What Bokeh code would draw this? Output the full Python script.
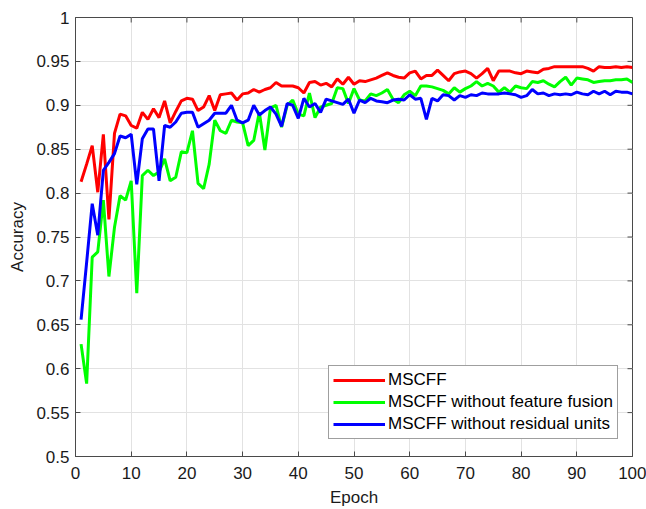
import math
from bokeh.plotting import figure
from bokeh.models import (FixedTicker, Legend, LegendItem,
                          CustomJSTickFormatter, Range1d)
from bokeh.embed import file_html
from bokeh.resources import INLINE

epochs = list(range(1, 101))

mscff = [0.813, 0.833, 0.854, 0.801, 0.867, 0.770, 0.868, 0.890, 0.888, 0.877,
         0.874, 0.892, 0.884, 0.896, 0.886, 0.905, 0.880, 0.893, 0.905, 0.908,
         0.907, 0.894, 0.898, 0.911, 0.894, 0.912, 0.913, 0.914, 0.906, 0.913,
         0.914, 0.918, 0.915, 0.918, 0.920, 0.926, 0.922, 0.922, 0.922, 0.920,
         0.914, 0.926, 0.927, 0.923, 0.925, 0.921, 0.930, 0.924, 0.932, 0.924,
         0.928, 0.927, 0.929, 0.931, 0.934, 0.937, 0.934, 0.932, 0.931, 0.937,
         0.939, 0.930, 0.934, 0.934, 0.940, 0.934, 0.928, 0.936, 0.938, 0.939,
         0.936, 0.931, 0.936, 0.942, 0.928, 0.939, 0.939, 0.939, 0.937, 0.936,
         0.939, 0.938, 0.937, 0.941, 0.942, 0.944, 0.944, 0.944, 0.944, 0.944,
         0.944, 0.942, 0.939, 0.944, 0.943, 0.943, 0.944, 0.943, 0.944, 0.943]

no_fusion = [0.628, 0.583, 0.727, 0.733, 0.792, 0.705, 0.761, 0.797, 0.792, 0.814,
             0.686, 0.820, 0.826, 0.820, 0.824, 0.839, 0.814, 0.818, 0.847, 0.846,
             0.871, 0.811, 0.805, 0.833, 0.883, 0.871, 0.868, 0.883, 0.881, 0.880,
             0.854, 0.860, 0.892, 0.849, 0.897, 0.900, 0.875, 0.900, 0.906, 0.890,
             0.888, 0.914, 0.886, 0.898, 0.900, 0.902, 0.920, 0.919, 0.902, 0.919,
             0.906, 0.905, 0.913, 0.911, 0.914, 0.918, 0.907, 0.903, 0.912, 0.916,
             0.911, 0.922, 0.922, 0.921, 0.919, 0.917, 0.913, 0.920, 0.915, 0.919,
             0.922, 0.927, 0.922, 0.925, 0.922, 0.915, 0.920, 0.915, 0.922, 0.920,
             0.919, 0.927, 0.926, 0.928, 0.924, 0.921, 0.927, 0.932, 0.923, 0.931,
             0.930, 0.929, 0.926, 0.927, 0.928, 0.928, 0.929, 0.929, 0.930, 0.926]

no_residual = [0.656, 0.721, 0.788, 0.752, 0.826, 0.835, 0.845, 0.865, 0.863, 0.867,
               0.810, 0.862, 0.873, 0.873, 0.814, 0.877, 0.875, 0.881, 0.891, 0.892,
               0.892, 0.875, 0.879, 0.883, 0.891, 0.891, 0.891, 0.900, 0.883, 0.880,
               0.883, 0.900, 0.889, 0.894, 0.898, 0.890, 0.876, 0.902, 0.900, 0.885,
               0.908, 0.898, 0.902, 0.892, 0.907, 0.905, 0.903, 0.901, 0.907, 0.891,
               0.906, 0.903, 0.908, 0.905, 0.904, 0.903, 0.906, 0.907, 0.906, 0.912,
               0.907, 0.908, 0.884, 0.908, 0.905, 0.912, 0.911, 0.906, 0.911, 0.909,
               0.912, 0.911, 0.914, 0.913, 0.913, 0.913, 0.914, 0.913, 0.912, 0.909,
               0.911, 0.918, 0.913, 0.914, 0.911, 0.913, 0.912, 0.913, 0.912, 0.915,
               0.913, 0.912, 0.916, 0.913, 0.916, 0.912, 0.916, 0.915, 0.915, 0.913]

series_names = ["MSCFF", "MSCFF without feature fusion", "MSCFF without residual units"]
series_colors = ["#ff0000", "#00ff00", "#0000ff"]

x_ticks = [0, 10, 20, 30, 40, 50, 60, 70, 80, 90, 100]
y_ticks = [0.5, 0.55, 0.6, 0.65, 0.7, 0.75, 0.8, 0.85, 0.9, 0.95, 1.0]

FONT = "Liberation Sans"
AX = "#4a4a4a"
TXT = "#1a1a1a"

p = figure(frame_width=557, frame_height=439,
           x_range=Range1d(x_ticks[0], x_ticks[-1]), y_range=Range1d(y_ticks[0], y_ticks[-1]),
           output_backend="svg", toolbar_location=None,
           min_border_left=75, min_border_top=17, min_border_right=14, min_border_bottom=53,
           background_fill_color="white", border_fill_color="white")
p.outline_line_color = AX
p.outline_line_width = 1

fmt = CustomJSTickFormatter(code="return tick.toFixed(2).replace(/0+$/,'').replace(/\\.$/,'');")

for ax in (p.xaxis[0], p.yaxis[0]):
    ax.major_tick_in = 5
    ax.major_tick_out = 0
    ax.minor_tick_line_color = None
    ax.axis_line_color = AX
    ax.major_tick_line_color = AX
    ax.major_label_text_font = FONT
    ax.major_label_text_font_size = "17px"
    ax.major_label_text_color = TXT
    ax.axis_label_text_font = FONT
    ax.axis_label_text_font_size = "17px"
    ax.axis_label_text_font_style = "normal"
    ax.axis_label_text_color = TXT

p.xaxis[0].ticker = FixedTicker(ticks=x_ticks)
p.yaxis[0].ticker = FixedTicker(ticks=y_ticks)
p.yaxis[0].formatter = fmt
p.xaxis[0].axis_label = "Epoch"
p.yaxis[0].axis_label = "Accuracy"
p.xaxis[0].major_label_standoff = 10
p.xaxis[0].axis_label_standoff = 6
p.yaxis[0].major_label_standoff = 6
p.yaxis[0].axis_label_standoff = 6

# inward tick marks on the top and right edges of the box
p.ray(x=x_ticks, y=[y_ticks[-1]] * len(x_ticks), length=5, length_units="screen",
      angle=-math.pi / 2, line_color=AX, line_width=1)
p.ray(x=[x_ticks[-1]] * len(y_ticks), y=y_ticks, length=5, length_units="screen",
      angle=math.pi, line_color=AX, line_width=1)

p.xgrid.ticker = FixedTicker(ticks=x_ticks)
p.ygrid.ticker = FixedTicker(ticks=y_ticks)
p.grid.grid_line_color = "#e2e2e2"
p.grid.grid_line_width = 1

renderers = []
for ys, c in zip([mscff, no_fusion, no_residual], series_colors):
    r = p.line(epochs, ys, line_color=c, line_width=3)
    renderers.append(r)

legend = Legend(items=[LegendItem(label=n, renderers=[r]) for n, r in zip(series_names, renderers)],
                location=(253, 17))
legend.label_text_font = FONT
legend.label_text_font_size = "17px"
legend.label_text_color = "#000000"
legend.glyph_width = 52
legend.glyph_height = 20
legend.label_height = 20
legend.label_standoff = 3
legend.spacing = 2
legend.padding = 4
legend.margin = 0
legend.border_line_color = "#404040"
legend.border_line_width = 1
legend.background_fill_color = "white"
legend.background_fill_alpha = 1
p.add_layout(legend, "center")

open("out.html", "w").write(file_html(p, INLINE))
